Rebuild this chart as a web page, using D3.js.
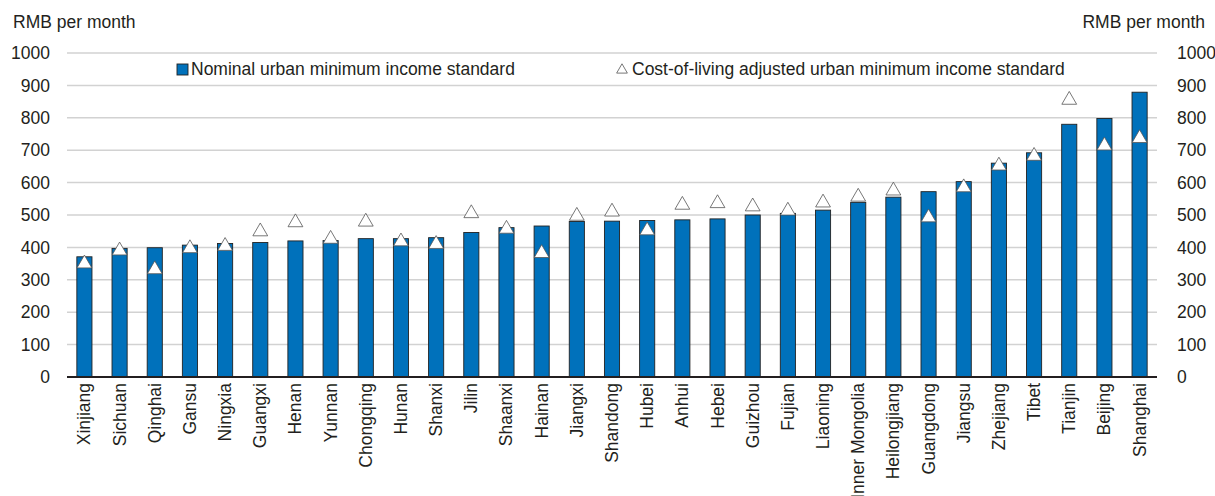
<!DOCTYPE html>
<html>
<head>
<meta charset="utf-8">
<script src="https://cdn.jsdelivr.net/npm/d3@7"></script>
<style>
  body { margin: 0; background: #fff; }
  svg text { font-family: "Liberation Sans", Arial, sans-serif; fill: #231f20; }
</style>
</head>
<body>
<div id="chart"></div>
<script>
"use strict";

/* Provinces, sorted by nominal standard */
const PROVINCES = ["Xinjiang", "Sichuan", "Qinghai", "Gansu", "Ningxia", "Guangxi",
  "Henan", "Yunnan", "Chongqing", "Hunan", "Shanxi", "Jilin", "Shaanxi", "Hainan",
  "Jiangxi", "Shandong", "Hubei", "Anhui", "Hebei", "Guizhou", "Fujian", "Liaoning",
  "Inner Mongolia", "Heilongjiang", "Guangdong", "Jiangsu", "Zhejiang", "Tibet",
  "Tianjin", "Beijing", "Shanghai"];

// nominal urban minimum income standard (bars)
const NOMINAL = [371, 397, 399, 407, 412, 415, 420, 421, 427, 427, 430, 446, 461, 466,
  480, 481, 483, 485, 488, 500, 505, 515, 539, 555, 572, 603, 660, 692, 780, 798, 879];

// cost-of-living adjusted (triangles)
const ADJUSTED = [350, 390, 332, 397, 404, 449, 477, 426, 479, 418, 410, 505, 457, 382,
  497, 510, 452, 531, 536, 526, 513, 538, 556, 575, 492, 585, 652, 682, 855, 714, 737];

const Y_TICKS = [0, 100, 200, 300, 400, 500, 600, 700, 800, 900, 1000];

const W = 1215, H = 496;
const margin = { left: 67, right: 58, top: 53, bottom: 119 };
const FONT = 17.5;

const svg = d3.select("#chart")
  .append("svg")
  .attr("width", W)
  .attr("height", H);

const x = d3.scaleBand()
  .domain(PROVINCES)
  .range([margin.left, W - margin.right])
  .paddingInner(0.57)
  .paddingOuter(0.28);

const y = d3.scaleLinear()
  .domain([0, 1000])
  .range([H - margin.bottom, margin.top]);

/* gridlines */
svg.append("g")
  .selectAll("line")
  .data(Y_TICKS.filter(d => d > 0))
  .enter()
  .append("line")
  .attr("x1", margin.left)
  .attr("x2", W - margin.right)
  .attr("y1", d => y(d))
  .attr("y2", d => y(d))
  .attr("stroke", "#d2d2d2")
  .attr("stroke-width", 1.5);

/* left and right tick labels */
const yAxisL = d3.axisLeft(y).tickValues(Y_TICKS).tickFormat(d3.format("d"))
  .tickSize(0).tickPadding(17);
const yAxisR = d3.axisRight(y).tickValues(Y_TICKS).tickFormat(d3.format("d"))
  .tickSize(0).tickPadding(20);

const gl = svg.append("g")
  .attr("transform", `translate(${margin.left},0)`)
  .call(yAxisL);
const gr = svg.append("g")
  .attr("transform", `translate(${W - margin.right},0)`)
  .call(yAxisR);
[gl, gr].forEach(g => {
  g.select(".domain").remove();
  g.selectAll("text")
    .style("font-size", FONT + "px")
    .attr("font-family", null);
});

/* units */
svg.append("text")
  .attr("x", 13)
  .attr("y", 28)
  .style("font-size", FONT + "px")
  .text("RMB per month");
svg.append("text")
  .attr("x", 1205)
  .attr("y", 28)
  .attr("text-anchor", "end")
  .style("font-size", FONT + "px")
  .text("RMB per month");

/* bars */
svg.append("g")
  .selectAll("rect")
  .data(PROVINCES)
  .enter()
  .append("rect")
  .attr("x", d => x(d))
  .attr("width", x.bandwidth())
  .attr("y", (d, i) => y(NOMINAL[i]))
  .attr("height", (d, i) => y(0) - y(NOMINAL[i]))
  .attr("fill", "#0071bb")
  .attr("stroke", "#222")
  .attr("stroke-width", 0.9);

/* triangles */
const tri = d3.symbol().type(d3.symbolTriangle).size(95);
svg.append("g")
  .selectAll("path")
  .data(PROVINCES)
  .enter()
  .append("path")
  .attr("d", tri)
  .attr("transform", (d, i) => `translate(${x(d) + x.bandwidth() / 2},${y(ADJUSTED[i])})`)
  .attr("fill", "#fff")
  .attr("stroke", "#555")
  .attr("stroke-width", 0.8);

/* x axis */
svg.append("line")
  .attr("x1", margin.left)
  .attr("x2", W - margin.right)
  .attr("y1", y(0))
  .attr("y2", y(0))
  .attr("stroke", "#231f20")
  .attr("stroke-width", 2);

svg.append("g")
  .selectAll("text")
  .data(PROVINCES)
  .enter()
  .append("text")
  .attr("transform", d => `translate(${x(d) + x.bandwidth() / 2 + 6},${y(0) + 6}) rotate(-90)`)
  .attr("text-anchor", "end")
  .style("font-size", FONT + "px")
  .text(d => d);

/* legend */
const legend = svg.append("g");
legend.append("rect")
  .attr("x", 177)
  .attr("y", 64)
  .attr("width", 11)
  .attr("height", 11)
  .attr("fill", "#0071bb")
  .attr("stroke", "#222")
  .attr("stroke-width", 0.9);
legend.append("text")
  .attr("x", 191)
  .attr("y", 75)
  .style("font-size", FONT + "px")
  .text("Nominal urban minimum income standard");
legend.append("path")
  .attr("d", d3.symbol().type(d3.symbolTriangle).size(50))
  .attr("transform", "translate(622,70)")
  .attr("fill", "#fff")
  .attr("stroke", "#555")
  .attr("stroke-width", 0.8);
legend.append("text")
  .attr("x", 632)
  .attr("y", 75)
  .style("font-size", FONT + "px")
  .text("Cost-of-living adjusted urban minimum income standard");
</script>
</body>
</html>
